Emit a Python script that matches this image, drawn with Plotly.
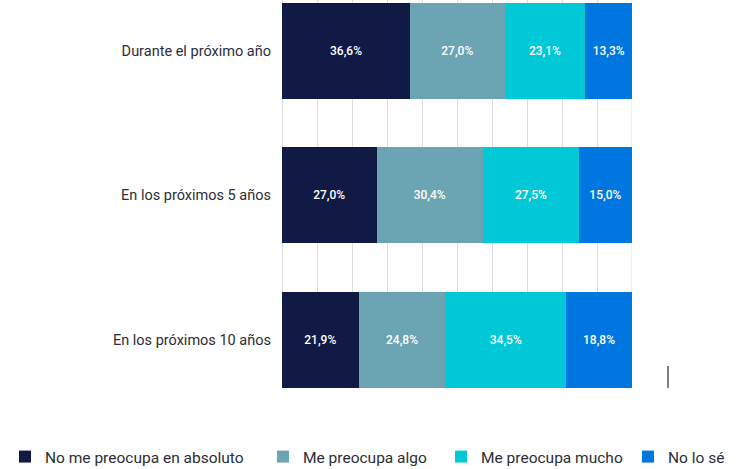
import plotly.graph_objects as go

categories = ["Durante el próximo año", "En los próximos 5 años", "En los próximos 10 años"]
series_names = ["No me preocupa en absoluto", "Me preocupa algo", "Me preocupa mucho", "No lo sé"]
no_preocupa = [36.6, 27.0, 21.9]
preocupa_algo = [27.0, 30.4, 24.8]
preocupa_mucho = [23.1, 27.5, 34.5]
no_lo_se = [13.3, 15.0, 18.8]
colors = ["#111a44", "#6ba4b2", "#00c8d6", "#0077e0"]

series_values = [no_preocupa, preocupa_algo, preocupa_mucho, no_lo_se]
legend_ids = ["legend", "legend2", "legend3", "legend4"]
legend_left_px = [5, 263, 441, 628]

fig = go.Figure()
for name, vals, col, lg in zip(series_names, series_values, colors, legend_ids):
    fig.add_trace(go.Bar(
        y=categories, x=vals, name=name, orientation="h",
        marker=dict(color=col, line=dict(width=0)),
        texttemplate="%{x:.1f}%", textposition="inside",
        insidetextanchor="middle",
        textfont=dict(color="white", size=12, family="Roboto", weight=500),
        hoverinfo="skip", legend=lg,
    ))

W, H = 754, 469
px_l, px_r = 282, 632      # plot area left/right in pixels
px_t, px_b = 0, 388        # plot area top/bottom in pixels

legend_common = dict(orientation="h", xanchor="left", y=-5 / H, yanchor="bottom",
                     font=dict(size=15.5, color="#2b2d38"), itemwidth=30,
                     bgcolor="rgba(0,0,0,0)")
legends = {}
for lg, lx in zip(legend_ids, legend_left_px):
    legends[lg] = dict(legend_common, x=lx / W)

fig.update_layout(
    width=W, height=H,
    barmode="stack", bargap=0.336,
    separators=",.",
    margin=dict(l=0, r=0, t=0, b=0, pad=0, autoexpand=False),
    paper_bgcolor="white", plot_bgcolor="white",
    font=dict(family="Roboto", color="#2b2d38"),
    uniformtext=dict(minsize=12, mode="show"),
    xaxis=dict(domain=[px_l / W, px_r / W], range=[0, 100], dtick=10,
               showticklabels=False,
               showgrid=True, gridcolor="#dcdcdc", gridwidth=1,
               zeroline=True, zerolinecolor="#dcdcdc", zerolinewidth=1,
               fixedrange=True),
    yaxis=dict(domain=[1 - px_b / H, 1 - px_t / H],
               type="category", categoryorder="array", categoryarray=categories,
               range=[2.332, -0.351], showgrid=False, zeroline=False,
               tickfont=dict(size=14.5, color="#2b2d38"), ticks="", ticklabelstandoff=10),
    showlegend=True,
    **legends,
)

# grid line at the right edge
fig.add_shape(type="line", xref="x", yref="y domain", x0=100, x1=100, y0=0, y1=1,
              line=dict(color="#dcdcdc", width=1), layer="below")
# small cursor-like mark at lower right
fig.add_shape(type="line", xref="paper", yref="paper",
              x0=668 / W, x1=668 / W, y0=1 - 366 / H, y1=1 - 388 / H,
              line=dict(color="black", width=1))

fig.write_html("out.html")
